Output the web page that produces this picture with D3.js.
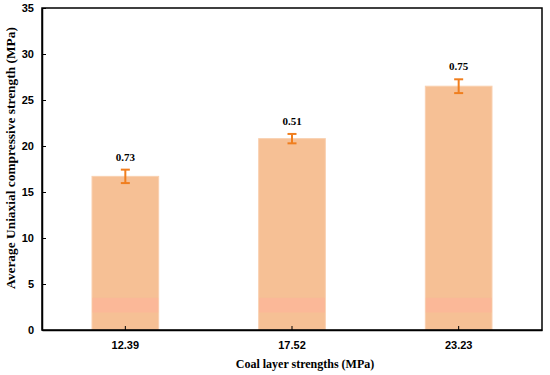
<!DOCTYPE html>
<html>
<head>
<meta charset="utf-8">
<script src="https://cdn.jsdelivr.net/npm/d3@7"></script>
<style>
  body { margin: 0; background: #fff; }
  svg { font-family: "Liberation Serif", "Times New Roman", serif; }
  .axis path, .axis line { stroke: #000; }
  .axis text { font-size: 11px; font-weight: bold; fill: #000; }
</style>
</head>
<body>
<svg width="550" height="375"></svg>
<script>
// chart data
var categories = ["12.39", "17.52", "23.23"];
var strengths = [16.7, 20.8, 26.5];
var deviations = [0.73, 0.51, 0.75];
var yTicks = [0, 5, 10, 15, 20, 25, 30, 35];
var shadeBand = [1.9, 3.5];

var svg = d3.select("svg");
var margin = {top: 8, right: 8, bottom: 45, left: 42};
var width = +svg.attr("width") - margin.left - margin.right;
var height = +svg.attr("height") - margin.top - margin.bottom;

var x = d3.scaleBand().domain(categories).range([0, width])
  .paddingInner(0.6).paddingOuter(0.3);
var y = d3.scaleLinear().domain([0, 35]).range([height, 0]);

var g = svg.append("g")
  .attr("transform", "translate(" + margin.left + "," + margin.top + ")");

var data = categories.map(function(c, i) {
  return {cat: c, val: strengths[i], sd: deviations[i]};
});

// bars
g.selectAll(".bar")
  .data(data)
  .enter().append("rect")
    .attr("class", "bar")
    .attr("x", function(d) { return x(d.cat); })
    .attr("y", function(d) { return y(d.val); })
    .attr("width", x.bandwidth())
    .attr("height", function(d) { return height - y(d.val); })
    .attr("fill", "#f6c095")
    .attr("stroke", "#f9d0b0")
    .attr("stroke-width", 1);

// pinkish band near the bottom of each bar
g.selectAll(".shade")
  .data(data)
  .enter().append("rect")
    .attr("x", function(d) { return x(d.cat) + 0.5; })
    .attr("y", y(shadeBand[1]))
    .attr("width", x.bandwidth() - 1)
    .attr("height", y(shadeBand[0]) - y(shadeBand[1]))
    .attr("fill", "#fbb898");

// error bars
var eb = g.selectAll(".err")
  .data(data)
  .enter().append("g")
    .attr("class", "err")
    .attr("stroke", "#f07e1e")
    .attr("stroke-width", 2);
eb.append("line")
  .attr("x1", function(d) { return x(d.cat) + x.bandwidth() / 2; })
  .attr("x2", function(d) { return x(d.cat) + x.bandwidth() / 2; })
  .attr("y1", function(d) { return y(d.val + d.sd); })
  .attr("y2", function(d) { return y(d.val - d.sd); });
eb.append("line")
  .attr("x1", function(d) { return x(d.cat) + x.bandwidth() / 2 - 4.5; })
  .attr("x2", function(d) { return x(d.cat) + x.bandwidth() / 2 + 4.5; })
  .attr("y1", function(d) { return y(d.val + d.sd); })
  .attr("y2", function(d) { return y(d.val + d.sd); });
eb.append("line")
  .attr("x1", function(d) { return x(d.cat) + x.bandwidth() / 2 - 4.5; })
  .attr("x2", function(d) { return x(d.cat) + x.bandwidth() / 2 + 4.5; })
  .attr("y1", function(d) { return y(d.val - d.sd); })
  .attr("y2", function(d) { return y(d.val - d.sd); });

// value labels
g.selectAll(".lbl")
  .data(data)
  .enter().append("text")
    .attr("x", function(d) { return x(d.cat) + x.bandwidth() / 2; })
    .attr("y", function(d) { return y(d.val + d.sd) - 9; })
    .attr("text-anchor", "middle")
    .attr("font-size", "11px")
    .attr("font-weight", "bold")
    .text(function(d) { return d.sd.toFixed(2); });

// frame
g.append("rect")
  .attr("width", width).attr("height", height)
  .attr("fill", "none").attr("stroke", "#000").attr("stroke-width", 1.5);

// axes, ticks pointing inward
g.append("g")
  .attr("class", "axis")
  .attr("transform", "translate(0," + height + ")")
  .call(d3.axisBottom(x).tickSizeInner(-4).tickSizeOuter(0).tickPadding(11))
  .call(function(a) { a.select(".domain").attr("stroke-width", 1.5); });

g.append("g")
  .attr("class", "axis")
  .call(d3.axisLeft(y).tickValues(yTicks).tickSizeInner(-4).tickSizeOuter(0).tickPadding(8))
  .call(function(a) { a.select(".domain").attr("stroke-width", 1.5); });

// axis titles
g.append("text")
  .attr("x", width / 2 + 13)
  .attr("y", height + 38)
  .attr("text-anchor", "middle")
  .attr("font-size", "12px")
  .attr("font-weight", "bold")
  .text("Coal layer strengths (MPa)");

g.append("text")
  .attr("transform", "rotate(-90)")
  .attr("x", -height / 2 + 11)
  .attr("y", -27)
  .attr("text-anchor", "middle")
  .attr("font-size", "13.4px")
  .attr("font-weight", "bold")
  .text("Average Uniaxial compressive strength (MPa)");
</script>
</body>
</html>
